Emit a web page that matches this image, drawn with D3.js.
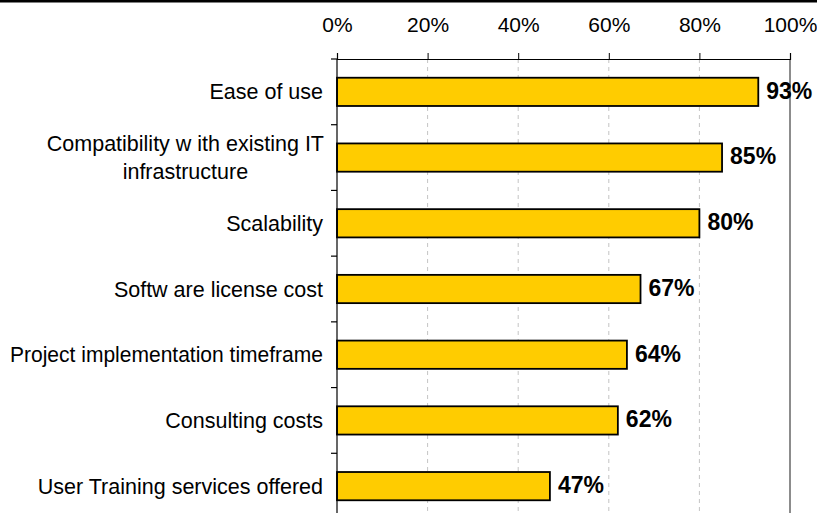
<!DOCTYPE html>
<html>
<head>
<meta charset="utf-8">
<script src="https://cdn.jsdelivr.net/npm/d3@7"></script>
<style>
  body { margin: 0; background: #fff; }
  svg { display: block; font-family: "Liberation Sans", Arial, sans-serif; }
</style>
</head>
<body>
<svg width="817" height="513"></svg>
<script>
// chart data, top to bottom
var categories = [
  "Ease of use",
  "Compatibility w ith existing IT|infrastructure",
  "Scalability",
  "Softw are license cost",
  "Project implementation timeframe",
  "Consulting costs",
  "User Training services offered"
];
var values = [0.93, 0.85, 0.80, 0.67, 0.64, 0.62, 0.47];
var tickValues = [0, 0.2, 0.4, 0.6, 0.8, 1.0];

var W = 817, H = 513;
// note: "top" is taken by window.top, so use other names
var plotLeft = 337, plotRight = 790, plotTop = 59, plotBottom = 519;
var maxLabelWidth = 313;

var svg = d3.select("svg");

// thick rule along the top edge
svg.append("line")
   .attr("x1", 0).attr("x2", W)
   .attr("y1", 1.3).attr("y2", 1.3)
   .attr("stroke", "#000").attr("stroke-width", 2.6);

var x = d3.scaleLinear().domain([0, 1]).range([plotLeft, plotRight]);
var y = d3.scaleBand().domain(categories).range([plotTop, plotBottom])
          .paddingInner(0.57).paddingOuter(0.285);

// dashed gridlines
svg.append("g").selectAll("line")
   .data(tickValues.filter(function(d) { return d > 0 && d < 1; }))
   .enter().append("line")
   .attr("x1", function(d) { return x(d); }).attr("x2", function(d) { return x(d); })
   .attr("y1", plotTop).attr("y2", H)
   .attr("stroke", "#c4c4c4").attr("stroke-width", 1)
   .style("stroke-dasharray", "4,4");

// right frame line
svg.append("line")
   .attr("x1", plotRight).attr("x2", plotRight)
   .attr("y1", plotTop).attr("y2", H)
   .attr("stroke", "#8c8c8c").attr("stroke-width", 2);

// bars
svg.append("g").selectAll("rect")
   .data(values)
   .enter().append("rect")
   .attr("x", x(0))
   .attr("y", function(d, i) { return y(categories[i]); })
   .attr("width", function(d) { return x(d) - x(0); })
   .attr("height", y.bandwidth())
   .attr("fill", "#ffcc00")
   .attr("stroke", "#000").attr("stroke-width", 1.8);

// value labels
svg.append("g").selectAll("text")
   .data(values)
   .enter().append("text")
   .attr("x", function(d) { return x(d) + 8; })
   .attr("y", function(d, i) { return y(categories[i]) + y.bandwidth() / 2; })
   .attr("dy", "0.3em")
   .style("font-size", "23px").style("font-weight", "bold")
   .text(d3.format(".0%"));

// top axis
var xAxis = d3.axisTop(x).tickValues(tickValues).tickFormat(d3.format(".0%"))
              .tickSize(6).tickPadding(21);
var gx = svg.append("g").attr("transform", "translate(0," + plotTop + ")").call(xAxis);
gx.select(".domain").attr("stroke", "#000").attr("stroke-width", 1.2);
gx.selectAll(".tick line").attr("stroke", "#000");
gx.selectAll(".tick text").style("font-size", "21px").attr("fill", "#000")
  .style("font-family", "'Liberation Sans', Arial, sans-serif");

// left axis line with ticks at band boundaries
svg.append("line")
   .attr("x1", plotLeft).attr("x2", plotLeft)
   .attr("y1", plotTop).attr("y2", H)
   .attr("stroke", "#000").attr("stroke-width", 1.2);
svg.append("g").selectAll("line")
   .data(d3.range(categories.length + 1))
   .enter().append("line")
   .attr("x1", plotLeft - 6).attr("x2", plotLeft)
   .attr("y1", function(i) { return plotTop + i * y.step(); })
   .attr("y2", function(i) { return plotTop + i * y.step(); })
   .attr("stroke", "#000").attr("stroke-width", 1.2);

// category labels (lines of a wrapped label are centred on each other)
var labels = svg.append("g").style("font-size", "21.5px");
categories.forEach(function(c) {
  var lines = c.split("|");
  var cy = y(c) + y.bandwidth() / 2;
  var t = labels.append("text").attr("fill", "#000");
  if (lines.length == 1) {
    t.attr("x", plotLeft - 14).attr("y", cy).attr("dy", "0.35em")
     .attr("text-anchor", "end").text(c);
    // squeeze a label that would run past the left edge
    if (t.node().getComputedTextLength() > maxLabelWidth) {
      t.attr("textLength", maxLabelWidth).attr("lengthAdjust", "spacingAndGlyphs");
    }
  } else {
    var lh = 28;
    lines.forEach(function(l, j) {
      t.append("tspan").attr("x", 0).attr("y", cy + (j - (lines.length - 1) / 2) * lh)
       .attr("dy", "0.35em").attr("text-anchor", "middle").text(l);
    });
    var wmax = t.node().getBBox().width;
    t.selectAll("tspan").attr("x", plotLeft - 13 - wmax / 2);
  }
});
</script>
</body>
</html>
